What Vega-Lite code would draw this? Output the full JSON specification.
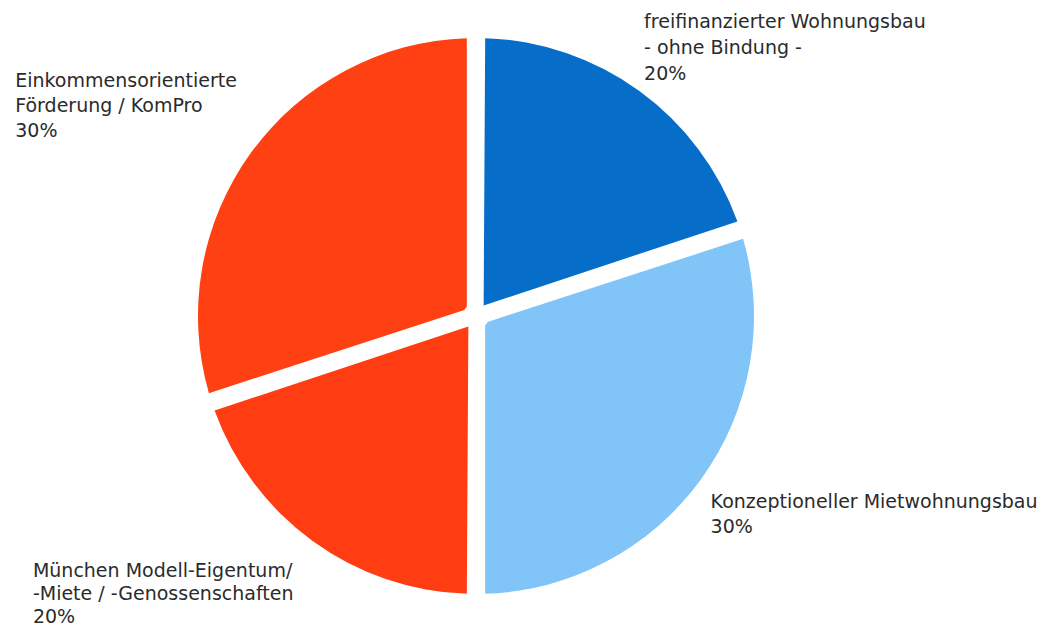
{
  "$schema": "https://vega.github.io/schema/vega-lite/v6.json",
  "width": 952,
  "height": 626,
  "autosize": "none",
  "padding": {"left": 0, "top": 3, "right": 100, "bottom": 0},
  "background": "white",
  "view": {"stroke": null},
  "data": {
    "values": [
      {"k": 1, "kategorie": "freifinanzierter Wohnungsbau - ohne Bindung -", "anteil": 20, "label": "freifinanzierter Wohnungsbau\n\u00a0- ohne Bindung -\n20%"},
      {"k": 2, "kategorie": "Konzeptioneller Mietwohnungsbau", "anteil": 30, "label": "Konzeptioneller Mietwohnungsbau\n30%"},
      {"k": 3, "kategorie": "München Modell-Eigentum/-Miete/-Genossenschaften", "anteil": 20, "label": "München Modell-Eigentum/\n-Miete / -Genossenschaften\n20%"},
      {"k": 4, "kategorie": "Einkommensorientierte Förderung / KomPro", "anteil": 30, "label": "Einkommensorientierte\nFörderung / KomPro\n30%"}
    ]
  },
  "encoding": {
    "theta": {"field": "anteil", "type": "quantitative", "stack": true},
    "order": {"field": "k", "type": "quantitative"}
  },
  "layer": [
    {
      "mark": {"type": "arc", "outerRadius": 278, "innerRadius": 13, "padAngle": 0.066},
      "encoding": {
        "color": {
          "field": "kategorie",
          "type": "nominal",
          "scale": {
            "domain": ["freifinanzierter Wohnungsbau - ohne Bindung -", "Konzeptioneller Mietwohnungsbau", "München Modell-Eigentum/-Miete/-Genossenschaften", "Einkommensorientierte Förderung / KomPro"],
            "range": ["#066ec8", "#80c4f8", "#ff3c12", "#ff4012"]
          },
          "legend": null
        }
      }
    },
    {
      "mark": {"type": "text", "radius": 286, "dy": -53, "align": "left", "baseline": "bottom", "lineBreak": "\n", "font": "DejaVu Sans", "fontSize": 19, "lineHeight": 26, "color": "#2b2b2b"},
      "encoding": {"text": {"condition": {"test": "datum.k === 1", "field": "label"}, "value": ""}}
    },
    {
      "mark": {"type": "text", "radius": 290, "dy": 7, "align": "left", "baseline": "top", "lineBreak": "\n", "font": "DejaVu Sans", "fontSize": 19, "lineHeight": 25, "color": "#2b2b2b"},
      "encoding": {"text": {"condition": {"test": "datum.k === 2", "field": "label"}, "value": ""}}
    },
    {
      "mark": {"type": "text", "radius": 303, "dx": -265, "dy": 1, "align": "left", "baseline": "top", "lineBreak": "\n", "font": "DejaVu Sans", "fontSize": 19, "lineHeight": 23, "color": "#2b2b2b"},
      "encoding": {"text": {"condition": {"test": "datum.k === 3", "field": "label"}, "value": ""}}
    },
    {
      "mark": {"type": "text", "radius": 420, "dx": -121, "dy": 3, "align": "left", "baseline": "top", "lineBreak": "\n", "font": "DejaVu Sans", "fontSize": 19, "lineHeight": 25, "color": "#2b2b2b"},
      "encoding": {"text": {"condition": {"test": "datum.k === 4", "field": "label"}, "value": ""}}
    }
  ]
}
